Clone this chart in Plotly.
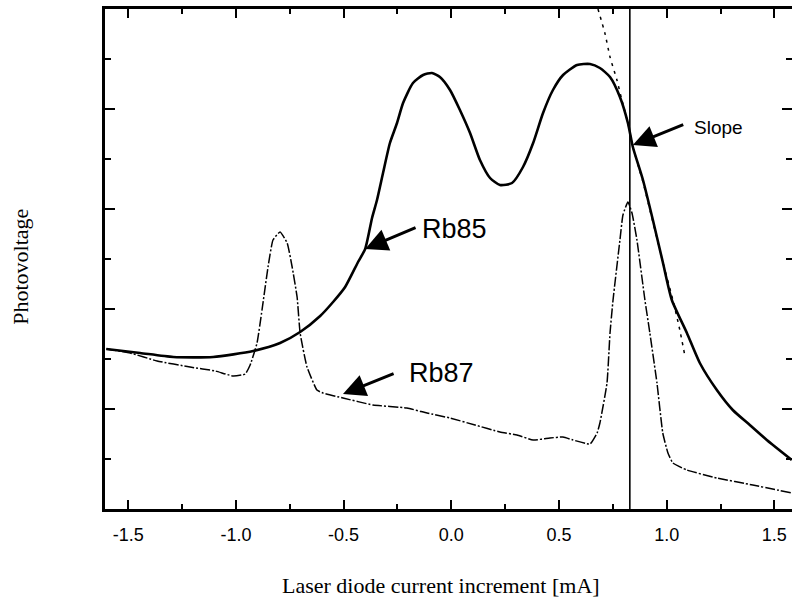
import plotly.graph_objects as go

# Laser diode current increment [mA] and photovoltage (arbitrary units)
rb85_current = [-1.602, -1.445, -1.291, -1.106, -0.920, -0.795, -0.702, -0.609, -0.549, -0.493,
                -0.433, -0.400, -0.368, -0.345, -0.317, -0.285, -0.252, -0.224, -0.178, -0.131,
                -0.090, -0.053, -0.006, 0.040, 0.087, 0.133, 0.180, 0.226, 0.282, 0.333,
                0.380, 0.426, 0.472, 0.519, 0.584, 0.644, 0.690, 0.737, 0.783, 0.820,
                0.843, 0.890, 0.936, 0.982, 1.024, 1.094, 1.154, 1.233, 1.307, 1.386,
                1.465, 1.581]
rb85_voltage = [3.20, 3.12, 3.04, 3.04, 3.16, 3.32, 3.54, 3.86, 4.14, 4.44,
                4.94, 5.20, 5.82, 6.18, 6.72, 7.32, 7.72, 8.12, 8.52, 8.68,
                8.72, 8.64, 8.38, 7.98, 7.52, 6.98, 6.62, 6.48, 6.52, 6.84,
                7.32, 7.92, 8.38, 8.68, 8.88, 8.90, 8.82, 8.64, 8.24, 7.72,
                7.24, 6.58, 5.78, 4.94, 4.18, 3.52, 2.92, 2.38, 1.98, 1.68,
                1.38, 0.98]

rb87_current = [-1.602, -1.491, -1.366, -1.213, -1.096, -1.013, -0.957, -0.934, -0.902, -0.879,
                -0.851, -0.828, -0.795, -0.762, -0.739, -0.716, -0.702, -0.670, -0.624, -0.596,
                -0.503, -0.364, -0.206, -0.113, -0.006, 0.110, 0.226, 0.305, 0.380, 0.458,
                0.519, 0.565, 0.644, 0.677, 0.690, 0.723, 0.737, 0.751, 0.783, 0.797,
                0.820, 0.839, 0.862, 0.899, 0.922, 0.955, 0.982, 1.006, 1.029, 1.094,
                1.233, 1.400, 1.581]
rb87_voltage = [3.20, 3.12, 2.96, 2.84, 2.76, 2.66, 2.70, 2.88, 3.32, 3.98,
                4.84, 5.38, 5.54, 5.32, 4.84, 4.24, 3.52, 2.84, 2.38, 2.32,
                2.22, 2.08, 2.02, 1.92, 1.82, 1.68, 1.54, 1.48, 1.38, 1.42,
                1.44, 1.38, 1.30, 1.52, 1.72, 2.52, 3.52, 4.18, 5.38, 5.88,
                6.14, 5.92, 5.38, 4.18, 3.52, 2.52, 1.52, 1.12, 0.92, 0.78,
                0.62, 0.48, 0.32]

# fitted wing of the Rb85 falling edge
fit_current = [0.681, 0.713, 0.737, 0.769, 0.792, 0.820, 0.843, 0.890, 0.936, 0.982,
               1.029, 1.061, 1.084]
fit_voltage = [10.0, 9.52, 9.04, 8.58, 8.18, 7.72, 7.24, 6.54, 5.74, 4.94,
               4.18, 3.58, 3.08]

slope_current = 0.829

x_ticks = [-1.5, -1.0, -0.5, 0.0, 0.5, 1.0, 1.5]
x_tick_text = ["-1.5", "-1.0", "-0.5", "0.0", "0.5", "1.0", "1.5"]
y_ticks = [2, 4, 6, 8]

fig = go.Figure()
fig.add_trace(go.Scatter(x=rb85_current, y=rb85_voltage, mode="lines",
                         line=dict(color="black", width=2.6, shape="spline", smoothing=0.6),
                         showlegend=False))
fig.add_trace(go.Scatter(x=rb87_current, y=rb87_voltage, mode="lines",
                         line=dict(color="black", width=1.5, dash="10px,2px,2px,2px",
                                   shape="spline", smoothing=0.4),
                         showlegend=False))
fig.add_trace(go.Scatter(x=fit_current, y=fit_voltage, mode="lines", yaxis="y2",
                         line=dict(color="black", width=1.5, dash="3px,5px",
                                   shape="spline", smoothing=0.6),
                         showlegend=False))

fig.add_shape(type="line", x0=slope_current, x1=slope_current, y0=0, y1=1,
              xref="x", yref="paper", line=dict(color="black", width=1.6))

font_sans = "Liberation Sans, Arial, sans-serif"
font_serif = "Liberation Serif, Times New Roman, serif"

labels = [
    dict(text="Rb85", x=0.017, y=5.6, ax=-0.159, ay=5.64, hx=-0.400, hy=5.20, size=27),
    dict(text="Rb87", x=-0.045, y=2.73, ax=-0.261, ay=2.72, hx=-0.503, hy=2.30, size=27),
    dict(text="Slope", x=1.242, y=7.64, ax=1.084, ay=7.70, hx=0.843, hy=7.28, size=19),
]
for lab in labels:
    fig.add_annotation(x=lab["x"], y=lab["y"], text=lab["text"], showarrow=False,
                       font=dict(family=font_sans, size=lab["size"], color="black"),
                       xanchor="center", yanchor="middle")
    fig.add_annotation(x=lab["hx"], y=lab["hy"], ax=lab["ax"], ay=lab["ay"],
                       xref="x", yref="y", axref="x", ayref="y", text="",
                       showarrow=True, arrowhead=2, arrowsize=1.5, arrowwidth=3,
                       arrowcolor="black")

fig.add_annotation(text="Laser diode current increment [mA]", xref="paper", yref="paper",
                   x=0.489, y=-0.152, showarrow=False, xanchor="center", yanchor="middle",
                   font=dict(family=font_serif, size=22, color="black"))
fig.add_annotation(text="Photovoltage", xref="paper", yref="paper",
                   x=-0.124, y=0.484, showarrow=False, textangle=-90,
                   xanchor="center", yanchor="middle",
                   font=dict(family=font_serif, size=22, color="black"))

fig.update_layout(
    width=792, height=601,
    margin=dict(l=105, r=0, t=9, b=92),
    paper_bgcolor="white", plot_bgcolor="white",
    xaxis=dict(range=[-1.608, 1.582], showgrid=False, zeroline=False,
               showline=True, linecolor="black", linewidth=2.5, mirror="ticks",
               ticks="inside", ticklen=9, tickwidth=2, tickcolor="black",
               tickvals=x_ticks, ticktext=x_tick_text, ticklabelstandoff=8,
               tickfont=dict(family=font_sans, size=18, color="black"),
               minor=dict(dtick=0.25, tick0=0, ticks="inside", ticklen=5,
                          tickwidth=1.5, tickcolor="black")),
    yaxis=dict(range=[0, 10], showgrid=False, zeroline=False,
               showline=True, linecolor="black", linewidth=2.5,
               ticks="inside", ticklen=10, tickwidth=2, tickcolor="black",
               tickvals=y_ticks, showticklabels=False,
               minor=dict(dtick=1, tick0=0, ticks="inside", ticklen=6,
                          tickwidth=1.5, tickcolor="black")),
    yaxis2=dict(range=[0, 10], overlaying="y", side="right", showgrid=False,
                zeroline=False, showline=False,
                ticks="inside", ticklen=10, tickwidth=2, tickcolor="black",
                tickvals=y_ticks, showticklabels=False,
                minor=dict(dtick=1, tick0=0, ticks="inside", ticklen=6,
                           tickwidth=1.5, tickcolor="black")),
)

fig.write_html("out.html")
